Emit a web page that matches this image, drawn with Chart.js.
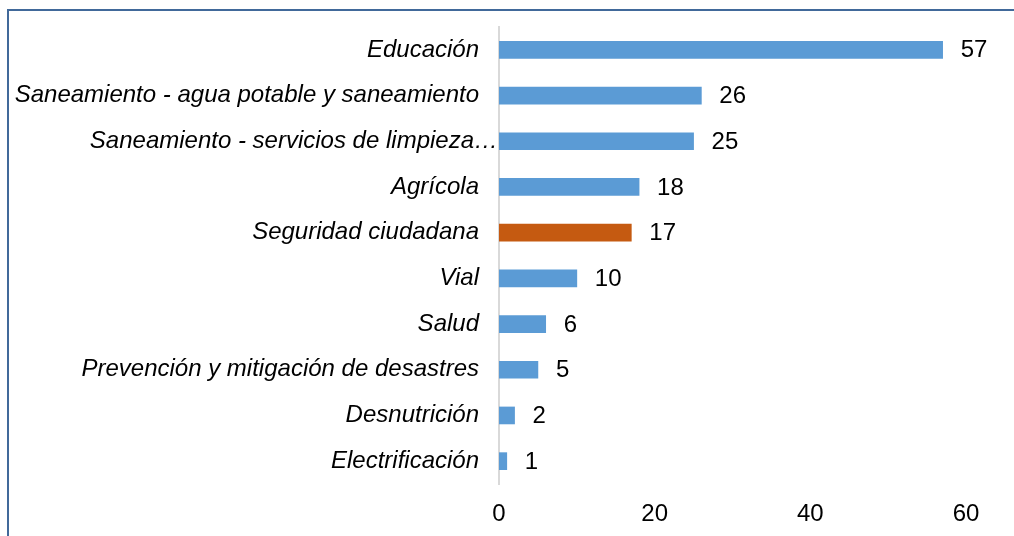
<!DOCTYPE html>
<html>
<head>
<meta charset="utf-8">
<script src="https://cdn.jsdelivr.net/npm/chart.js@4.4.0/dist/chart.umd.min.js"></script>
<style>
  html, body { margin: 0; padding: 0; background: #fff; }
  #wrap { position: relative; width: 1014px; height: 536px; overflow: hidden; }
  #frame {
    position: absolute; left: 7px; top: 9px; right: -10px; bottom: -10px;
    border-left: 2px solid #41699A; border-top: 2px solid #41699A;
  }
  canvas { position: absolute; left: 0; top: 0; }
</style>
</head>
<body>
<div id="wrap">
  <div id="frame"></div>
  <canvas id="chart" width="1014" height="536"></canvas>
</div>
<script>
const categories = [
  'Educación',
  'Saneamiento - agua potable y saneamiento',
  'Saneamiento - servicios de limpieza…',
  'Agrícola',
  'Seguridad ciudadana',
  'Vial',
  'Salud',
  'Prevención y mitigación de desastres',
  'Desnutrición',
  'Electrificación'
];
const values = [57, 26, 25, 18, 17, 10, 6, 5, 2, 1];
const highlighted = 'Seguridad ciudadana';
const truncated = 'Saneamiento - servicios de limpieza…';
const xTicks = [0, 20, 40, 60];

const BLUE = '#5B9BD5';
const ORANGE = '#C55A11';
const FONT = '"Liberation Sans", Arial, sans-serif';

// value labels at the end of each bar (datalabels plugin is not available offline)
// plus the truncated category label, which sits closer to the axis than the others
const extraLabels = {
  id: 'extraLabels',
  afterDraw(chart) {
    const ctx = chart.ctx;
    const meta = chart.getDatasetMeta(0);
    const yScale = chart.scales.y;
    ctx.save();
    ctx.fillStyle = '#000';
    ctx.textBaseline = 'middle';
    ctx.font = '24px ' + FONT;
    ctx.textAlign = 'left';
    meta.data.forEach((bar, i) => {
      ctx.fillText(String(values[i]), bar.x + 18, bar.y + 1);
    });
    const idx = categories.indexOf(truncated);
    ctx.font = 'italic 24px ' + FONT;
    ctx.textAlign = 'right';
    ctx.fillText(truncated, yScale.right - 1, yScale.getPixelForTick(idx));
    ctx.restore();
  }
};

new Chart(document.getElementById('chart'), {
  type: 'bar',
  plugins: [extraLabels],
  data: {
    labels: categories,
    datasets: [{
      data: values,
      backgroundColor: categories.map(c => c === highlighted ? ORANGE : BLUE),
      barThickness: 17,
      borderWidth: 0
    }]
  },
  options: {
    indexAxis: 'y',
    responsive: false,
    animation: false,
    layout: {
      padding: { top: 27, right: 48, bottom: 0, left: 0 }
    },
    plugins: {
      legend: { display: false },
      tooltip: { enabled: false }
    },
    scales: {
      x: {
        min: 0,
        max: 60,
        afterBuildTicks(scale) {
          scale.ticks = xTicks.map(v => ({ value: v }));
        },
        afterFit(scale) {
          scale.height = 52;
        },
        grid: { display: false, drawTicks: false },
        border: { display: false },
        ticks: {
          padding: 16,
          color: '#000',
          font: { family: FONT, size: 24 }
        }
      },
      y: {
        afterFit(scale) {
          scale.width = 499;
          scale.paddingTop = 0;
          scale.paddingBottom = 0;
        },
        grid: { display: false, drawTicks: false },
        border: { display: true, color: '#D9D9D9', width: 2 },
        ticks: {
          padding: 20,
          color: '#000',
          autoSkip: false,
          callback: (v, i) => categories[i] === truncated ? '' : categories[i],
          font: { family: FONT, size: 24, style: 'italic' }
        }
      }
    }
  }
});
</script>
</body>
</html>
